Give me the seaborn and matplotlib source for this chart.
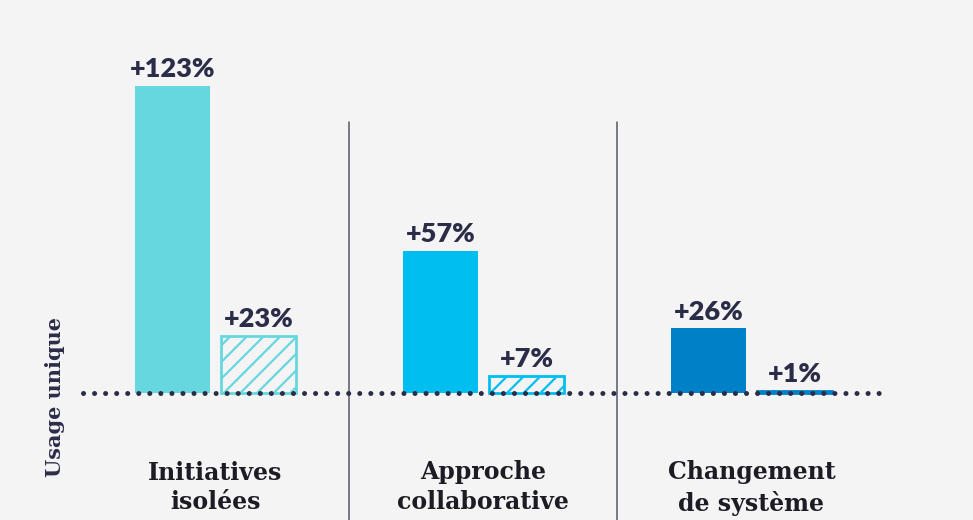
import pandas as pd
import matplotlib.pyplot as plt
import seaborn as sns

# values
groups = ["Initiatives\nisolées", "Approche\ncollaborative", "Changement\nde système"]
solid_values = [123, 57, 26]
hatched_values = [23, 7, 1]
bar_colors = ["#67d7df", "#00bff0", "#0080c6"]
axis_label = "Usage unique"

BG = "#f4f4f4"
NAVY = "#2b2d48"

df = pd.DataFrame({
    "group": groups * 2,
    "value": solid_values + hatched_values,
    "kind": ["solid"] * 3 + ["hatched"] * 3,
})

sns.set_theme(style="white")
plt.rcParams["hatch.linewidth"] = 1.6

fig = plt.figure(figsize=(9.73, 5.2), dpi=100, facecolor=BG)
ax = fig.add_axes([0, 0, 1, 1])
ax.set_facecolor(BG)

sns.barplot(data=df, x="group", y="value", hue="kind", order=groups,
            hue_order=["solid", "hatched"], width=0.642, gap=0.12,
            legend=False, ax=ax)

for bar, c in zip(ax.containers[0], bar_colors):
    bar.set_facecolor(c)
    bar.set_edgecolor(c)
    bar.set_linewidth(0)
for bar, c in zip(ax.containers[1], bar_colors):
    bar.set_facecolor(BG)
    bar.set_edgecolor(c)
    bar.set_hatch("//")
    bar.set_linewidth(2)

for cont, vals in zip(ax.containers, [solid_values, hatched_values]):
    ax.bar_label(cont, labels=[f"+{v}%" for v in vals], padding=3,
                 fontsize=19.5, fontweight="heavy", family="Lato", color=NAVY)

ax.set_xlim(-0.804, 2.827)
ax.set_ylim(-50.8, 157.2)

# dotted baseline
ax.plot([-0.494, 2.491], [0, 0], color=NAVY, lw=3.6,
        linestyle=(0, (0.01, 2.2)), dash_capstyle="round", zorder=5)

# group separators
for x in [0.5, 1.5]:
    ax.plot([x, x], [-50.8, 108.4], color="#55576a", lw=1.1)

for i, g in enumerate(groups):
    ax.text(i, -27, g, ha="center", va="top", fontsize=17,
            fontweight="bold", family="DejaVu Serif", color="#1c1c24",
            linespacing=1.3)

fig.text(55 / 973, 1 - 397 / 520, axis_label, rotation=90, ha="center",
         va="center", fontsize=15, fontweight="bold", family="DejaVu Serif",
         color=NAVY)

ax.set_axis_off()
fig.savefig("out.png", dpi=100, facecolor=BG)
